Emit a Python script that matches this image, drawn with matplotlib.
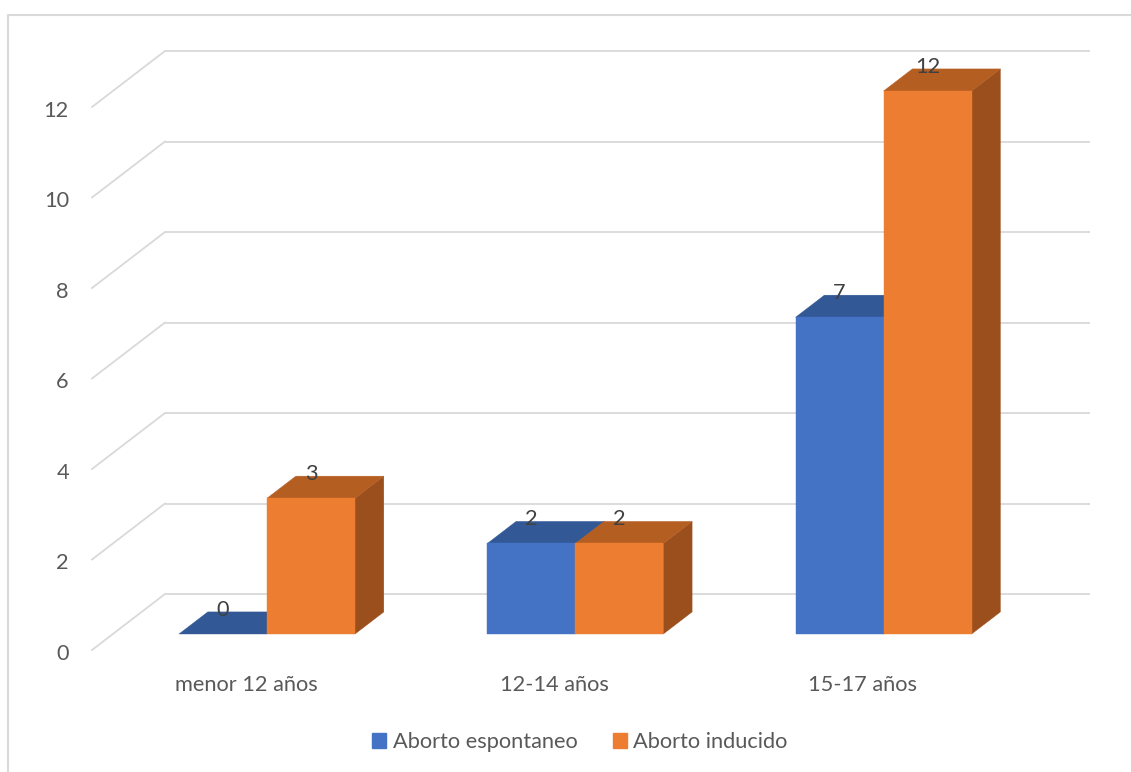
import numpy as np
import matplotlib
matplotlib.use("Agg")
import matplotlib.pyplot as plt
from matplotlib.patches import Polygon, Patch
from matplotlib.lines import Line2D

plt.rcParams['font.family'] = ['Lato', 'DejaVu Sans']

categories = ["menor 12 años", "12-14 años", "15-17 años"]
series_names = ["Aborto espontaneo", "Aborto inducido"]
espontaneo = [0, 2, 7]
inducido = [3, 2, 12]
yticks = [0, 2, 4, 6, 8, 10, 12]

# face colours per series: front, top, side
faces = [
    ("#4472C4", "#325896", "#2A4A80"),
    ("#ED7D31", "#B55E22", "#9A4F1D"),
]
grid_color = "#D9D9D9"
tick_color = "#595959"
label_color = "#404040"
fs = 15.7

W, H = 1131, 772
fig = plt.figure(figsize=(W / 100, H / 100), dpi=100)
ax = fig.add_axes([0, 0, 1, 1])
ax.axis("off")

# front plane: x=0 at px 92, one category = 308.3 px; value 0 at px 650, 45.25 px per unit
px_cat, x0_px = 308.3, 92
px_val, y0_px = 45.25, 650
ax.set_xlim(-x0_px / px_cat, (W - x0_px) / px_cat)
ax.set_ylim((y0_px - H) / px_val, y0_px / px_val)

# oblique depth vector (full depth of the floor) in data units
DX = 73 / px_cat
DY = 56 / px_val
z_front, z_back = 0.286, 0.68
bar_w = 88 / px_cat
ncat = len(categories)


def proj(x, y, z):
    return (x + z * DX, y + z * DY)


# walls: gridlines on the back wall and the left side wall
for v in yticks:
    ax.plot([proj(0, v, 1)[0], proj(ncat, v, 1)[0]], [v + DY, v + DY],
            color=grid_color, lw=1.3, zorder=1, solid_capstyle="butt")
    ax.plot([0, DX], [v, v + DY], color=grid_color, lw=1.3, zorder=1)
    ax.text(-0.075, v - 0.08, str(v), ha="right", va="center", fontsize=fs,
            color=tick_color)

for i, cat in enumerate(categories):
    ax.text(i + 0.5, -0.78, cat, ha="center", va="center", fontsize=fs,
            color=tick_color)


def draw_bar(xl, xr, v, cols, z):
    front, top, side = cols
    fr = [proj(xl, 0, z_front), proj(xr, 0, z_front),
          proj(xr, v, z_front), proj(xl, v, z_front)]
    tp = [proj(xl, v, z_front), proj(xr, v, z_front),
          proj(xr, v, z_back), proj(xl, v, z_back)]
    sd = [proj(xr, 0, z_front), proj(xr, 0, z_back),
          proj(xr, v, z_back), proj(xr, v, z_front)]
    ax.add_patch(Polygon(sd, closed=True, fc=side, ec=side, lw=0.3, zorder=z))
    ax.add_patch(Polygon(tp, closed=True, fc=top, ec=top, lw=0.3, zorder=z))
    if v > 0:
        ax.add_patch(Polygon(fr, closed=True, fc=front, ec=front, lw=0.3,
                             zorder=z + 0.1))


z = 2
for i in range(ncat):
    c = i + 0.5
    for s, vals in enumerate([espontaneo, inducido]):
        xl = c - bar_w + s * bar_w
        xr = xl + bar_w
        v = vals[i]
        draw_bar(xl, xr, v, faces[s], z)
        z += 0.2
        # value label: above the back edge of the top face, over the front face centre
        lx = proj((xl + xr) / 2, v, z_front)[0]
        ly = proj(0, v, z_back)[1]
        ax.text(lx, ly - 0.09, str(v), ha="center", va="baseline",
                fontsize=fs, color=label_color, zorder=20)

handles = [Patch(fc=f[0], ec=f[0]) for f in faces]
fig.legend(handles, series_names, loc="center",
           bbox_to_anchor=(580 / W, 1 - 742 / H), ncol=2, frameon=False,
           fontsize=fs, labelcolor=tick_color, handlelength=0.65,
           handleheight=0.65, handletextpad=0.3, columnspacing=1.6)

# chart area border
fig.add_artist(Line2D([8 / W, 8 / W, 1], [0, 1 - 15 / H, 1 - 15 / H],
                      color=grid_color, lw=1.5, transform=fig.transFigure))

fig.savefig("out.png", dpi=100)
